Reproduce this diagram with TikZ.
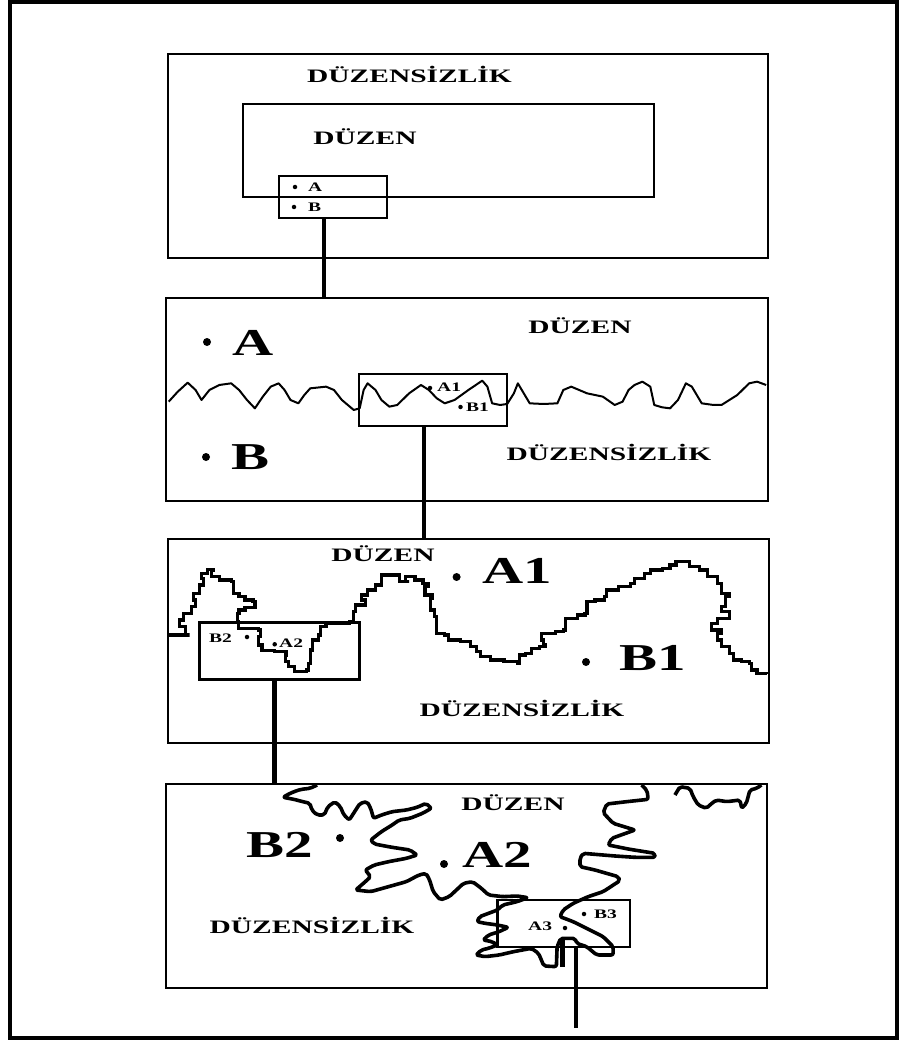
\documentclass[tikz,border=0pt]{standalone}
\usepackage{graphicx}
\usepackage{fontspec}
\setmainfont{Liberation Serif}
\newcommand{\wtxt}[2][1.5]{\scalebox{#1}[1]{#2}}
\begin{document}
\begin{tikzpicture}[x=1pt,y=-1pt,
  panel/.style={draw, line width=2.6pt, anchor=north west, inner sep=0pt, outer sep=0pt},
  link/.style={line width=4.5pt},
  lab/.style={font=\bfseries\fontsize{19}{19}\selectfont, inner sep=0pt, anchor=base},
  big/.style={font=\bfseries\fontsize{38}{38}\selectfont, inner sep=0pt, anchor=base west},
  small/.style={font=\bfseries\fontsize{13}{13}\selectfont, inner sep=0pt, anchor=base west},
  dotb/.style={fill, circle, inner sep=0pt, minimum size=8pt},
  dots/.style={fill, circle, inner sep=0pt, minimum size=4.5pt},
  wave/.style={line width=2pt, line join=round},
  jag/.style={line width=3.2pt, line join=miter},
  blob/.style={line width=3.6pt, line join=round, rounded corners=2pt}]
\useasboundingbox (0,0) rectangle (903,1040);
\fill[white] (0,0) rectangle (903,1040);
% outer frame
\draw[line width=4pt] (9.5,2) rectangle (897,1037.5);

% ---------- panel 1 ----------
\node[panel, minimum width=600pt, minimum height=204pt] (p1) at (168,54) {};
\node[panel, minimum width=411pt, minimum height=93pt] (p1in) at (243,104) {};
\node[panel, minimum width=108pt, minimum height=42pt] (sb1) at (279,176) {};
\node[lab] (t1a) at (409.5,83) {\wtxt[1.55]{DÜZENSİZLİK}};
\node[lab] (t1b) at (365,145) {\wtxt[1.55]{DÜZEN}};
\node[dots] (d1a) at (295,187) {};
\node[small] (s1a) at (308,192) {\wtxt{A}};
\node[dots] (d1b) at (294,207) {};
\node[small] (s1b) at (308,212) {\wtxt{B}};

% ---------- panel 2 ----------
\node[panel, minimum width=602pt, minimum height=203pt] (p2) at (166,298) {};
\begin{scope}[shift={(160,290)}, xscale=0.3954, yscale=0.3333]
\draw[wave] (22,335) -- (45,305) -- (70,278) -- (90,300) -- (105,330) -- (125,300) -- (150,285) -- (180,280) -- (200,300) -- (220,330) -- (240,355) -- (260,320) -- (280,290) -- (300,280) -- (315,300) -- (330,330) -- (350,340) -- (365,315) -- (380,295) -- (420,290) -- (440,300) -- (460,330) -- (490,360) -- (505,355) -- (515,300) -- (525,280) -- (545,300) -- (560,330) -- (580,350) -- (600,345) -- (630,310) -- (660,285) -- (680,300) -- (700,325) -- (720,340) -- (745,330) -- (780,300) -- (815,272) -- (828,290) -- (840,340) -- (860,345) -- (878,342) -- (895,310) -- (905,280) -- (920,310) -- (935,340) -- (970,342) -- (1005,340) -- (1020,300) -- (1040,290) -- (1060,300) -- (1080,310) -- (1120,320) -- (1150,345) -- (1170,335) -- (1185,300) -- (1200,285) -- (1220,275) -- (1240,290) -- (1250,345) -- (1270,352) -- (1290,355) -- (1310,330) -- (1330,280) -- (1345,290) -- (1360,320) -- (1370,340) -- (1400,345) -- (1420,345) -- (1440,330) -- (1460,315) -- (1490,280) -- (1510,275) -- (1533,285);
\end{scope}
\node[panel, minimum width=148pt, minimum height=52pt] (sb2) at (359,374) {};
\node[dotb] (d2a) at (207,342) {};
\node[big] (b2a) at (232,355) {\wtxt{A}};
\node[dotb] (d2b) at (206,457) {};
\node[big] (b2b) at (231,469) {\wtxt{B}};
\node[lab] (t2a) at (580,333) {\wtxt[1.55]{DÜZEN}};
\node[lab] (t2b) at (609,460) {\wtxt[1.55]{DÜZENSİZLİK}};
\node[dots] (d2c) at (430,388) {};
\node[small] (s2a) at (437,391) {\wtxt{A1}};
\node[dots] (d2d) at (460.5,407) {};
\node[small] (s2b) at (466,411) {\wtxt{B1}};

% ---------- panel 3 ----------
\node[panel, minimum width=601pt, minimum height=204pt] (p3) at (168,539) {};
\begin{scope}[shift={(160,530)}, xscale=0.3954, yscale=0.3333]
\draw[jag] (22,315) -| (75,315) -| (65,290) -| (50,270) -| (60,250) -| (80,230) -| (90,210) -| (85,190) -| (100,165) -| (110,145) -| (105,130) -| (120,118) -| (135,120) -| (130,140) -| (150,150) -| (180,155) -| (185,190) -| (200,200) -| (215,210) -| (235,215) -| (240,232) -| (215,240) -| (200,250) -| (195,275) -| (198,295) -| (240,295) -| (250,300) -| (255,320) -| (250,345) -| (258,362) -| (290,365) -| (320,375) -| (318,395) -| (325,410) -| (340,425) -| (370,420) -| (375,400) -| (380,360) -| (385,330) -| (400,315) -| (405,290) -| (420,280) -| (460,280) -| (480,275) -| (490,270) -| (490,245) -| (495,225) -| (520,210) -| (510,195) -| (525,180) -| (545,165) -| (560,150) -| (560,135) -| (600,135) -| (605,155) -| (630,155) -| (620,140) -| (645,150) -| (665,160) -| (680,170) -| (670,195) -| (690,205) -| (685,240) -| (695,260) -| (700,290) -| (700,310) -| (720,315) -| (730,330) -| (760,335) -| (785,350) -| (800,365) -| (810,380) -| (835,390) -| (850,390) -| (870,395) -| (905,400) -| (910,375) -| (925,370) -| (940,355) -| (960,350) -| (975,345) -| (970,330) -| (965,310) -| (1000,305) -| (1020,300) -| (1025,265) -| (1055,255) -| (1075,250) -| (1080,215) -| (1100,210) -| (1125,200) -| (1130,180) -| (1160,170) -| (1190,160) -| (1200,145) -| (1225,130) -| (1240,120) -| (1270,115) -| (1290,105) -| (1305,95) -| (1330,95) -| (1340,110) -| (1365,120) -| (1385,140) -| (1410,160) -| (1420,190) -| (1440,200) -| (1430,230) -| (1420,245) -| (1440,265) -| (1410,280) -| (1395,300) -| (1420,310) -| (1410,330) -| (1420,350) -| (1440,370) -| (1450,390) -| (1470,395) -| (1490,400) -| (1495,420) -| (1510,430) -| (1535,432);
\end{scope}
\node[panel, minimum width=160pt, minimum height=57pt] (sb3) at (199.5,622.7) {};
\node[lab] (t3a) at (383,561.7) {\wtxt[1.55]{DÜZEN}};
\node[lab] (t3b) at (522,716.7) {\wtxt[1.55]{DÜZENSİZLİK}};
\node[dotb] (d3a) at (456.6,577) {};
\node[big] (b3a) at (482,583) {\wtxt{A1}};
\node[dotb] (d3b) at (586,662) {};
\node[big] (b3b) at (619,670) {\wtxt{B1}};
\node[small] (s3a) at (209,642.7) {\wtxt{B2}};
\node[dots] (d3c) at (247,637) {};
\node[dots] (d3d) at (274.7,644.3) {};
\node[small] (s3b) at (279,647.3) {\wtxt{A2}};

% ---------- panel 4 ----------
\node[panel, minimum width=601pt, minimum height=204pt] (p4) at (166,784) {};
\begin{scope}[shift={(160,770)}, xscale=0.3571, yscale=0.3333]
\draw[blob] (440,45) -- (420,55) -- (395,58) -- (375,65) -- (355,75) -- (345,82) -- (375,88) -- (400,95) -- (420,100) -- (425,120) -- (440,135) -- (460,135) -- (470,110) -- (490,95) -- (505,110) -- (515,135) -- (530,150) -- (545,125) -- (560,100) -- (580,95) -- (590,115) -- (598,145) -- (620,135) -- (650,125) -- (690,120) -- (720,112) -- (745,100) -- (760,115) -- (735,130) -- (700,145) -- (670,150) -- (650,165) -- (620,185) -- (590,210) -- (600,222) -- (650,232) -- (700,240) -- (720,255) -- (690,265) -- (640,275) -- (600,285) -- (575,300) -- (590,320) -- (575,335) -- (548,360) -- (590,365) -- (640,350) -- (690,335) -- (725,315) -- (745,310) -- (755,330) -- (765,365) -- (785,390) -- (810,380) -- (830,360) -- (850,340) -- (875,335) -- (900,355) -- (920,375) -- (960,380) -- (1000,378) -- (1030,383) -- (1000,395) -- (960,405) -- (945,420) -- (915,432) -- (895,440) -- (888,455) -- (910,460) -- (945,465) -- (975,472) -- (950,485) -- (920,495) -- (905,510) -- (930,515) -- (945,525) -- (920,535) -- (900,540) -- (885,555) -- (910,560) -- (950,555) -- (990,545) -- (1040,535) -- (1060,550) -- (1075,588) -- (1110,590) -- (1112,530) -- (1122,505) -- (1140,505) -- (1162,505) -- (1167,520) -- (1195,530) -- (1223,555) -- (1269,555) -- (1269,530) -- (1241,500) -- (1204,480) -- (1157,455) -- (1120,440) -- (1129,420) -- (1157,400) -- (1199,380) -- (1241,365) -- (1288,332) -- (1283,320) -- (1218,300) -- (1176,290) -- (1176,265) -- (1185,250) -- (1274,258) -- (1330,262) -- (1386,262) -- (1386,250) -- (1316,238) -- (1255,225) -- (1265,205) -- (1330,180) -- (1269,160) -- (1241,128) -- (1251,102) -- (1307,95) -- (1367,88) -- (1364,62) -- (1349,45);
\draw[line width=5pt] (1128,505) -- (1128,590);
\draw[blob] (1442,75) -- (1456,50) -- (1484,55) -- (1493,80) -- (1507,105) -- (1530,115) -- (1545,100) -- (1558,90) -- (1587,95) -- (1624,90) -- (1629,115) -- (1642,100) -- (1652,60) -- (1671,55) -- (1684,45);
\end{scope}
\node[panel, minimum width=132.5pt, minimum height=47pt] (sb4) at (497.5,900) {};
\node[lab] (t4a) at (513,810) {\wtxt[1.55]{DÜZEN}};
\node[lab] (t4b) at (312,933) {\wtxt[1.55]{DÜZENSİZLİK}};
\node[big] (b4a) at (246,857) {\wtxt{B2}};
\node[dotb] (d4a) at (340,838) {};
\node[dotb] (d4b) at (444,864) {};
\node[big] (b4b) at (462,867) {\wtxt{A2}};
\node[small] (s4a) at (528,930) {\wtxt{A3}};
\node[dots] (d4c) at (565,928) {};
\node[dots] (d4d) at (584,914) {};
\node[small] (s4b) at (594,918) {\wtxt{B3}};

% ---------- connectors ----------
\coordinate (k1) at (324,0);
\coordinate (k2) at (424,0);
\coordinate (k3) at (274.7,0);
\coordinate (e4) at (576,1028);
\draw[link] (sb1.south -| k1) -- (p2.north -| k1);
\draw[link] (sb2.south -| k2) -- (p3.north -| k2);
\draw[link] (sb3.south -| k3) -- (p4.north -| k3);
\draw[link] (sb4.south -| e4) -- (e4);
\end{tikzpicture}
\end{document}
